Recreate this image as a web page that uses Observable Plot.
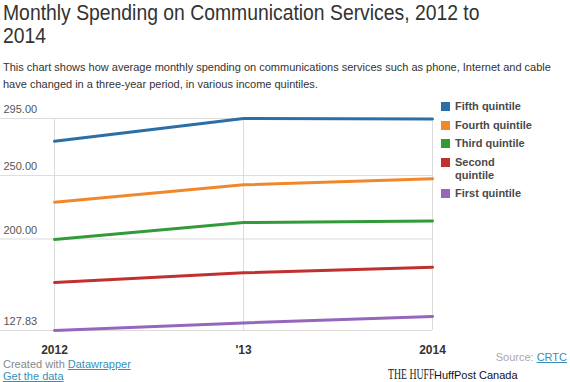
<!DOCTYPE html>
<html>
<head>
<meta charset="utf-8">
<script src="https://cdn.jsdelivr.net/npm/d3@7"></script>
<script src="https://cdn.jsdelivr.net/npm/@observablehq/plot@0.6"></script>
<style>
  body { margin: 0; background: #fff; font-family: "Liberation Sans", Arial, sans-serif; }
  #wrap { position: relative; width: 570px; height: 382px; overflow: hidden; }
  #title { position: absolute; left: 3px; top: 1px; font-size: 22.5px; line-height: 23px; color: #333; white-space: nowrap; transform: scaleX(0.86); transform-origin: 0 0; }
  #sub { position: absolute; left: 3px; top: 59px; font-size: 11px; line-height: 17px; color: #333; white-space: nowrap; }
  #chart { position: absolute; left: 0; top: 100px; }
  #legend { position: absolute; left: 441px; top: 100px; width: 110px; font-size: 11px; font-weight: bold; color: #4a4a4a; }
  .item { position: relative; padding-left: 14px; line-height: 13px; margin-bottom: 5.5px; }
  .sw { position: absolute; left: 0; top: 2px; width: 9px; height: 9px; }
  #created { position: absolute; left: 3px; top: 358px; font-size: 11px; line-height: 12px; color: #888; }
  a { color: #3a8fb7; text-decoration: underline; }
  #source { position: absolute; right: 3px; top: 351px; font-size: 11px; color: #aaa; }
  #huff { position: absolute; left: 388px; top: 366px; font-family: "Liberation Serif", serif; font-size: 15px; color: #222; white-space: nowrap; transform: scaleX(0.65); transform-origin: 0 0; }
  #hpc { position: absolute; left: 434px; top: 369px; font-size: 11px; color: #111; line-height: 13px; }
</style>
</head>
<body>
<div id="wrap">
  <div id="title">Monthly Spending on Communication Services, 2012 to<br>2014</div>
  <div id="sub">This chart shows how average monthly spending on communications services such as phone, Internet and cable<br>have changed in a three-year period, in various income quintiles.</div>
  <div id="chart"></div>
  <div id="legend"></div>
  <div id="created">Created with <a>Datawrapper</a><br><a>Get the data</a></div>
  <div id="source">Source: <a>CRTC</a></div>
  <div id="huff">THE HUFF</div>
  <div id="hpc">HuffPost Canada</div>
</div>
<script>
const years = ["2012", "'13", "2014"];
const seriesNames = ["Fifth quintile", "Fourth quintile", "Third quintile", "Second quintile", "First quintile"];
const colors = ["#2b6fa6", "#f0882a", "#339a3a", "#c0302e", "#9467bd"];
const fifth = [277.1, 295.0, 294.7];
const fourth = [229.0, 242.7, 247.4];
const third = [199.6, 212.9, 214.2];
const second = [165.7, 173.3, 177.7];
const first = [127.83, 133.8, 138.8];
const yTicks = [127.83, 200, 250, 295];

const seriesValues = [fifth, fourth, third, second, first];
const data = [];
seriesNames.forEach((s, i) => years.forEach((y, j) => data.push({series: s, year: y, value: seriesValues[i][j]})));

const plot = Plot.plot({
  width: 460,
  height: 258,
  marginLeft: 0,
  marginRight: 28,
  marginTop: 18,
  marginBottom: 28,
  style: {fontFamily: "Liberation Sans, Arial, sans-serif", background: "transparent"},
  x: {type: "point", domain: years, range: [53, 432], padding: 0, label: null},
  y: {domain: [127.83, 295], label: null},
  color: {domain: seriesNames, range: colors},
  marks: [
    Plot.ruleY(yTicks, {stroke: "#dcdcdc", strokeWidth: 1}),
    Plot.ruleX(years, {stroke: "#dcdcdc", strokeWidth: 1}),
    Plot.axisY({ticks: yTicks, tickFormat: d => d.toFixed(2), tickSize: 0, tickPadding: 0, textAnchor: "start", dx: 3, dy: -9, fontSize: 11, fill: "#555", label: null}),
    Plot.axisX({tickSize: 0, tickPadding: 15, fontSize: 12, fontWeight: "bold", fill: "#333", label: null}),
    Plot.line(data, {x: "year", y: "value", z: "series", stroke: "series", strokeWidth: 3, strokeLinejoin: "round"})
  ]
});
document.getElementById("chart").appendChild(plot);

const legend = document.getElementById("legend");
seriesNames.forEach((s, i) => {
  const d = document.createElement("div");
  d.className = "item";
  const label = s === "Second quintile" ? "Second<br>quintile" : s;
  d.innerHTML = `<span class="sw" style="background:${colors[i]}"></span>${label}`;
  legend.appendChild(d);
});
</script>
</body>
</html>
